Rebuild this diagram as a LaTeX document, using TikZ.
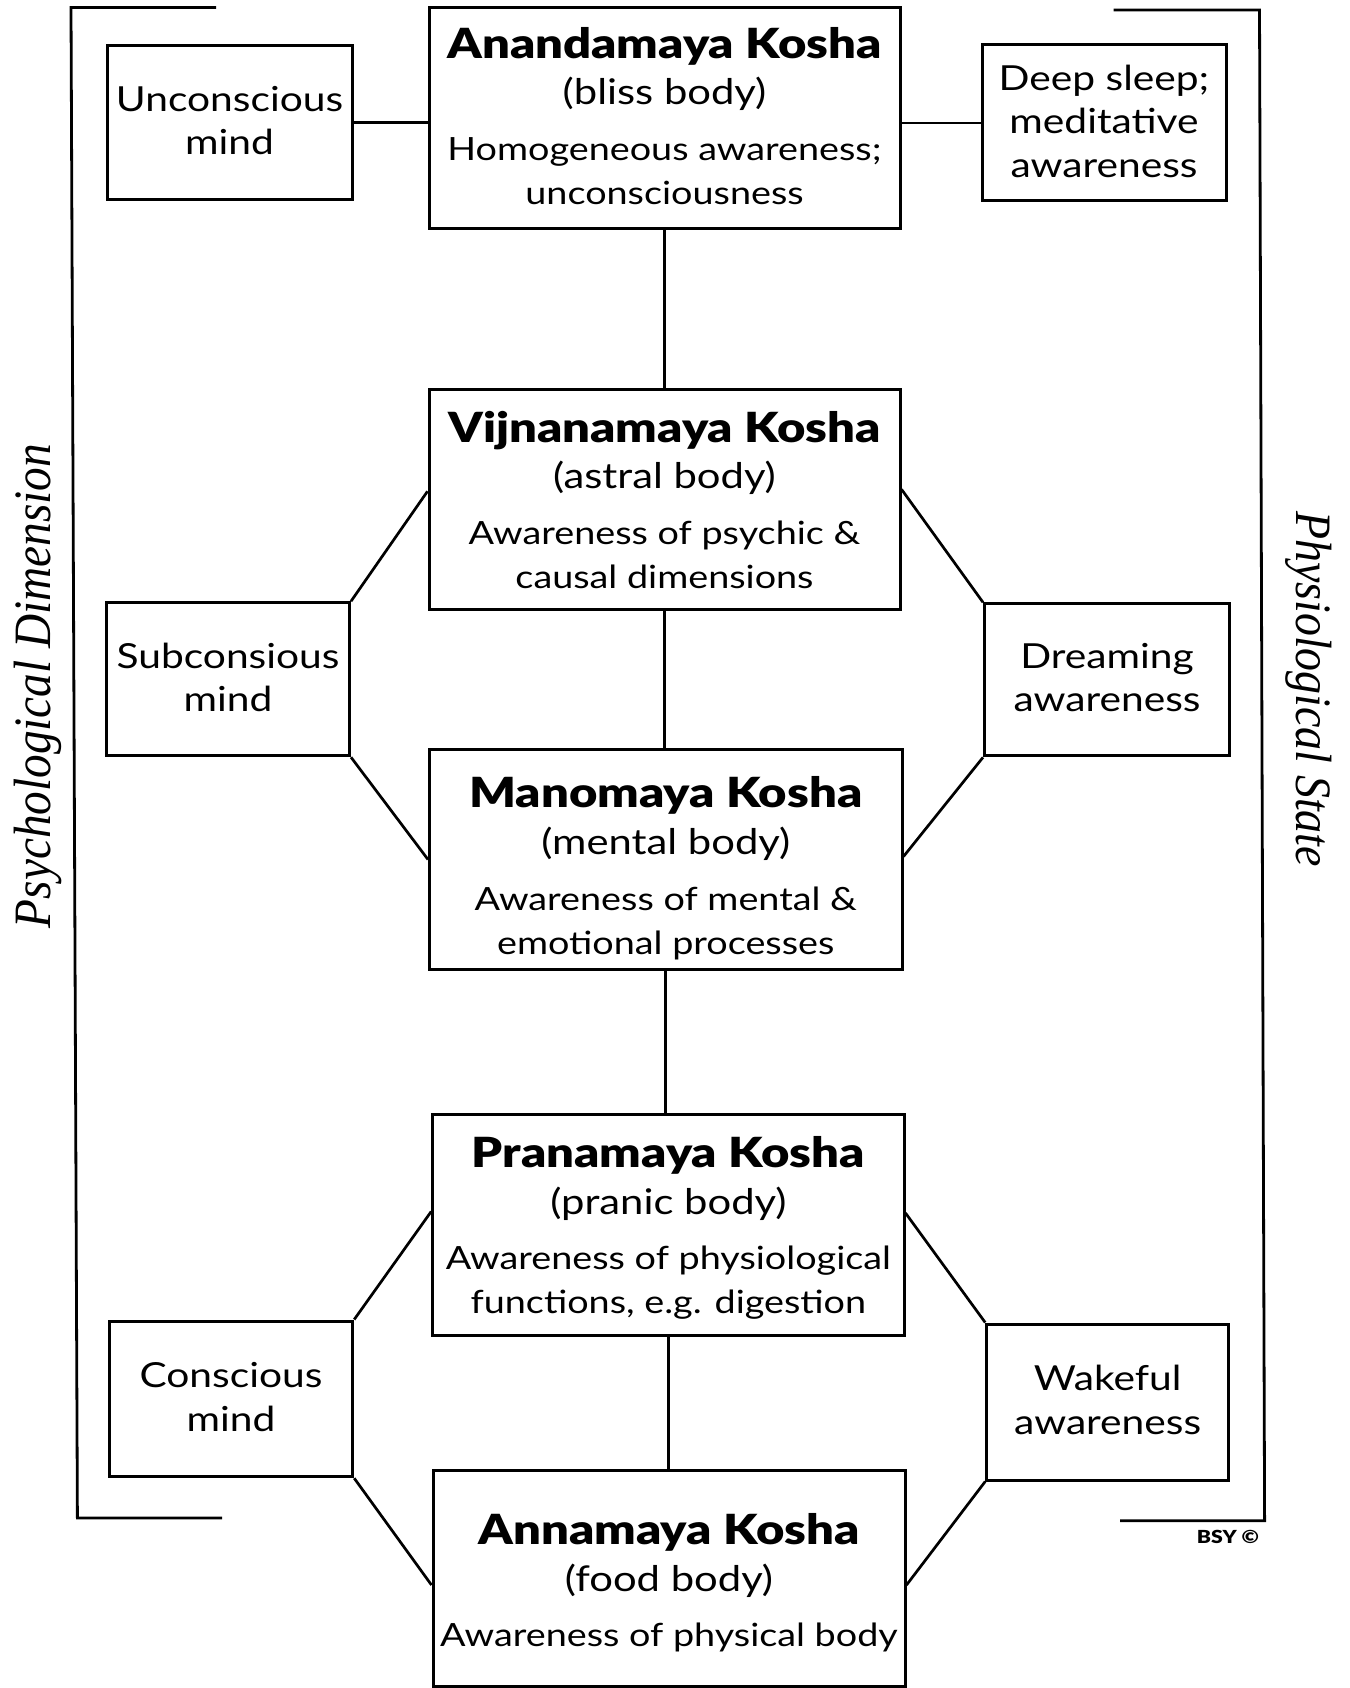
\documentclass[tikz,border=0pt]{standalone}
\usepackage{fontspec}
\setmainfont{Lato}[FakeStretch=1.18, BoldFont={Lato Black}]
\newfontfamily\labelserif{Liberation Serif}[FakeStretch=0.9]
\usetikzlibrary{calc}
\newcommand{\ktitle}{\fontsize{41.5}{44}\selectfont\bfseries}
\newcommand{\ksub}{\fontsize{35.4}{44}\selectfont}
\newcommand{\ktop}[1]{\rule{0pt}{#1pt}}
\newcommand{\kbot}[1]{\rule[-#1pt]{0pt}{#1pt}}
\tikzset{
  mainbox/.style={draw, line width=3pt, inner sep=0pt, align=center,
    font=\fontsize{32}{44}\selectfont},
  sidebox/.style={draw, line width=3pt, inner sep=0pt, align=center,
    font=\fontsize{34.5}{43.5}\selectfont},
  link/.style={line width=2.7pt},
  bracket/.style={line width=2.8pt},
  sidelabel/.style={inner sep=0pt, anchor=base}
}
\begin{document}
\begin{tikzpicture}[x=1pt,y=-1pt]
\useasboundingbox (0,0) rectangle (1349,1688);
\fill[white] (0,0) rectangle (1349,1688);

% main koshas
\node[mainbox, minimum width=471pt, minimum height=221pt] (A) at (664.5,118)
  {\ktop{33.4}{\ktitle Anandamaya Kosha}\\[2.7pt]{\ksub (bliss body)}\\[11.4pt]Homogeneous awareness;\\unconsciousness\kbot{7}};
\node[mainbox, minimum width=471pt, minimum height=220.6pt] (V) at (664.5,499.3)
  {\ktop{38.8}{\ktitle Vijnanamaya Kosha}\\[2.7pt]{\ksub (astral body)}\\[11.4pt]Awareness of psychic \&\\causal dimensions\kbot{7}};
\node[mainbox, minimum width=472.5pt, minimum height=220.4pt] (M) at (665.75,859.5)
  {\ktop{50}{\ktitle Manomaya Kosha}\\[2.7pt]{\ksub (mental body)}\\[11.4pt]Awareness of mental \&\\emotional processes\kbot{7}};
\node[mainbox, minimum width=471.3pt, minimum height=221pt] (P) at (668.35,1224.5)
  {\ktop{39.5}{\ktitle Pranamaya Kosha}\\[2.7pt]{\ksub (pranic body)}\\[11.4pt]Awareness of physiological\\functions, e.g. digestion\kbot{7}};
\node[mainbox, minimum width=472pt, minimum height=216pt] (N) at (669,1578)
  {\ktop{42}{\ktitle Annamaya Kosha}\\[2.7pt]{\ksub (food body)}\\[11.4pt]Awareness of physical body\kbot{7}};

% side boxes
\node[sidebox, minimum width=245pt, minimum height=154.5pt] (UM) at (229.5,122.75) {Unconscious\\mind\kbot{4.4}};
\node[sidebox, minimum width=244pt, minimum height=156pt] (DS) at (1104,123) {Deep sleep;\\meditative\\awareness\kbot{4.4}};
\node[sidebox, minimum width=243pt, minimum height=153pt] (SM) at (228,679.25) {Subconsious\\mind\kbot{4.4}};
\node[sidebox, minimum width=245pt, minimum height=152pt] (DA) at (1107,679.85) {Dreaming\\awareness\kbot{4.4}};
\node[sidebox, minimum width=243.4pt, minimum height=155.7pt] (CM) at (231,1398.85) {Conscious\\mind\kbot{4.4}};
\node[sidebox, minimum width=241.8pt, minimum height=156pt] (WA) at (1107.6,1402) {Wakeful\\awareness\kbot{4.4}};

% connectors
\draw[link] (UM.east) -- (UM.east -| A.west);
\draw[link] (DS.west) -- (DS.west -| A.east);
\draw[link] (A.south) -- (A.south |- V.north);
\draw[link] (V.south) -- (V.south |- M.north);
\draw[link] (M.south) -- (M.south |- P.north);
\draw[link] (P.south) -- (P.south |- N.north);

\draw[link] ([yshift=8pt]V.west) -- (SM.north east);
\draw[link] (SM.south east) -- (M.west);
\draw[link] ([yshift=10pt]V.east) -- (DA.north west);
\draw[link] (DA.south west) -- ([yshift=3pt]M.east);

\draw[link] ([yshift=13pt]P.west) -- (CM.north east);
\draw[link] (CM.south east) -- ([yshift=-7pt]N.west);
\draw[link] ([yshift=11.5pt]P.east) -- (WA.north west);
\draw[link] (WA.south west) -- ([yshift=-7pt]N.east);

% brackets
\coordinate (LT) at (216,7.5);
\coordinate (LTc) at (71,7.5);
\coordinate (LBc) at (77.4,1518);
\coordinate (LB) at (222,1518);
\draw[bracket] (LT) -- (LTc) -- (LBc) -- (LB);
\coordinate (RT) at (1113.7,10);
\coordinate (RTc) at (1259.5,10);
\coordinate (RBc) at (1264.6,1520.7);
\coordinate (RB) at (1120,1520.7);
\draw[bracket] (RT) -- (RTc) -- (RBc) -- (RB);

% side labels
\node[sidelabel, rotate=90, font=\labelserif\itshape\fontsize{52.5}{58}\selectfont] (psy) at (50,686) {Psychological Dimension};
\node[sidelabel, rotate=-90, font=\labelserif\itshape\fontsize{51}{56}\selectfont] (phy) at (1296,689) {Physiological State};
\node[font=\fontsize{18}{20}\selectfont\bfseries, inner sep=0pt] (bsy) at (1228,1537) {BSY ©};
\end{tikzpicture}
\end{document}
